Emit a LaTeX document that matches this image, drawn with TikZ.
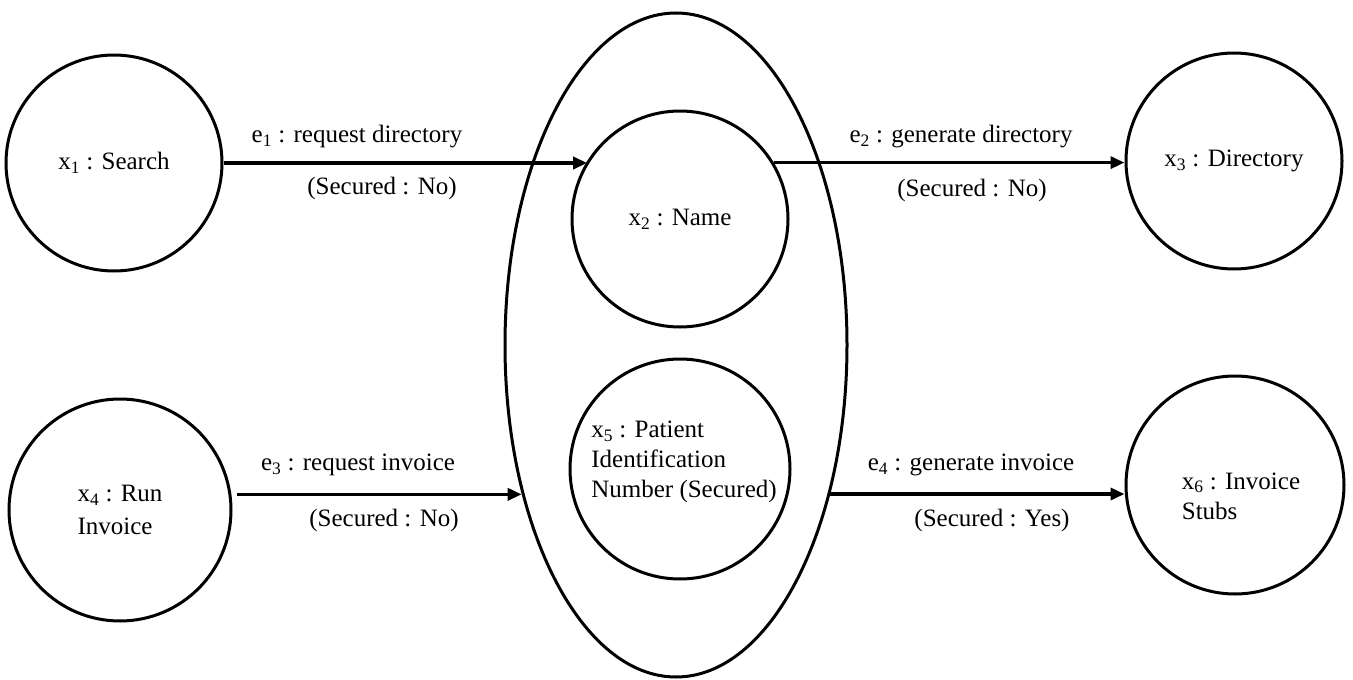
\documentclass[tikz,border=0pt]{standalone}
\usepackage{fontspec}
\setmainfont{Liberation Serif}
\usetikzlibrary{shapes.geometric,arrows.meta}
\begin{document}
\begin{tikzpicture}[x=1pt,y=-1pt,
  state/.style={circle,draw,line width=3pt,inner sep=0pt,minimum size=216pt,
    font=\fontsize{25}{33}\selectfont,align=left},
  txt/.style={font=\fontsize{25}{30}\selectfont,inner sep=0pt,align=left},
  lbl/.style={font=\fontsize{25}{30}\selectfont,inner sep=0pt},
  conn/.style={line width=3.6pt,-{Triangle[length=14pt,width=12pt]}}]
\useasboundingbox (0,0) rectangle (1353,680);
% big ellipse
\node[ellipse,draw,line width=3pt,minimum width=342pt,minimum height=664pt,inner sep=0pt] (E) at (676,345) {};
% states
\node[state] (x1) at (114,163) {x\textsubscript{1} : Search};
\node[state] (x2) at (680,219) {x\textsubscript{2} : Name};
\node[state] (x3) at (1234,161) {x\textsubscript{3} : Directory};
\node[state,minimum size=222pt] (x4) at (120,510) {x\textsubscript{4} : Run\\Invoice};
\node[state,minimum size=220pt] (x5) at (680,469) {};
\node[txt] (x5t) at (684,462) {x\textsubscript{5} : Patient\\Identification\\Number (Secured)};
\node[state,minimum size=218pt] (x6) at (1235,485) {};
\node[txt] (x6t) at (1241,496) {x\textsubscript{6} : Invoice\\Stubs};
% connectors
\draw[conn] (x1.east) -- (x1.east -| x2.148.8);
\draw[conn] (x2.31.2) -- (x2.31.2 -| x3.west);
\coordinate (s3) at ([xshift=6pt]x4.8.7);
\draw[conn] (s3) -- (s3 -| E.224);
\draw[conn] (E.316) -- (E.316 -| x6.west);
% edge labels
\node[lbl] (l1) at (357,137) {e\textsubscript{1} : request directory};
\node[lbl] (s1) at (382,188) {(Secured : No)};
\node[lbl] (l2) at (961,137) {e\textsubscript{2} : generate directory};
\node[lbl] (s2) at (972,190) {(Secured : No)};
\node[lbl] (l3) at (358,465) {e\textsubscript{3} : request invoice};
\node[lbl] (s3l) at (384,520) {(Secured : No)};
\node[lbl] (l4) at (971,465) {e\textsubscript{4} : generate invoice};
\node[lbl] (s4) at (992,520) {(Secured : Yes)};
\end{tikzpicture}
\end{document}
